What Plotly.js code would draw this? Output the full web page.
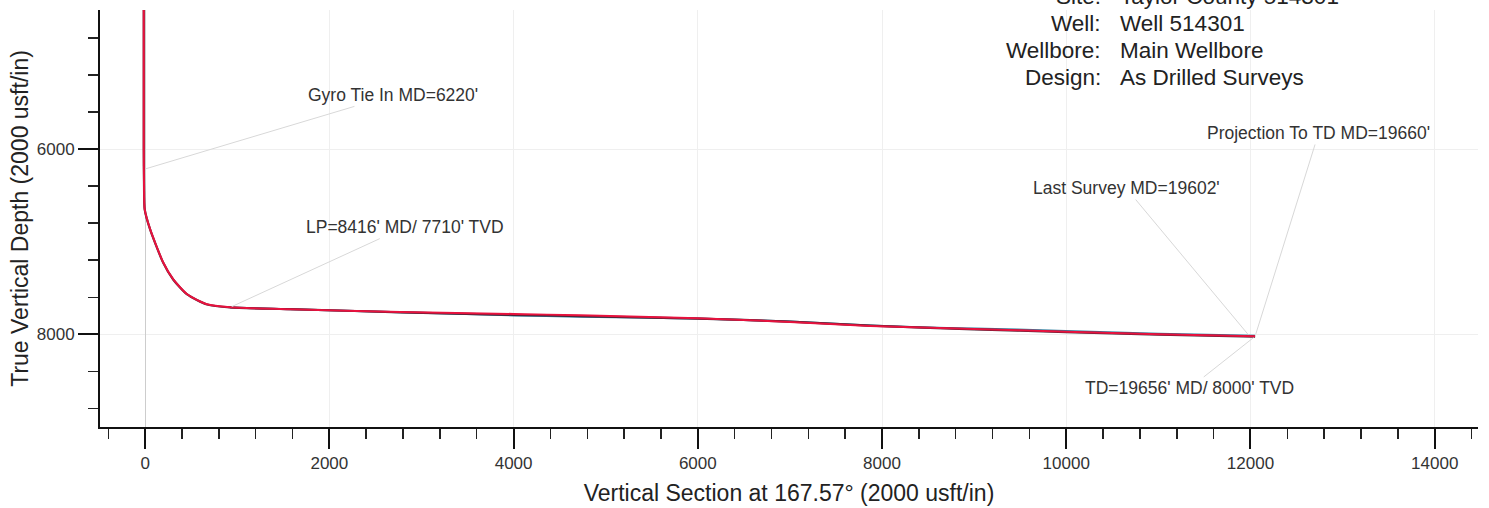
<!DOCTYPE html>
<html>
<head>
<meta charset="utf-8">
<script src="https://cdn.plot.ly/plotly-3.0.1.min.js"></script>
<style>html,body{margin:0;padding:0;background:#fff;}#chart{width:1489px;height:508px;}</style>
</head>
<body>
<div id="chart"></div>
<script>
// Actual well path (red)
const actualVS  = [-15, -15, -12, -5, 54, 195, 304, 456, 673, 923, 1574, 2769, 4000, 4723, 6000, 7000, 7872, 9000, 10000, 11000, 12050];
const actualTVD = [4500, 6000, 6400, 6649, 6865, 7222, 7405, 7568, 7676, 7708, 7730, 7758, 7780, 7795, 7827, 7866, 7910, 7942, 7972, 8000, 8022];
// Plan (dark)
const planVS  = [-15, -15, -12, -5, 54, 195, 304, 456, 673, 923, 1574, 2769, 4000, 4723, 6000, 7000, 7872, 9000, 10000, 11000, 12050];
const planTVD = [4500, 6000, 6400, 6650, 6868, 7225, 7408, 7570, 7678, 7710, 7728, 7762, 7790, 7803, 7830, 7862, 7906, 7946, 7976, 8004, 8024];
// Secondary path (blue-teal)
const altVS  = [923, 1574, 2769, 4000, 4723, 5500, 6000, 7000, 7872, 8600, 9000, 9900, 11000, 12050];
const altTVD = [7710, 7730, 7762, 7796, 7810, 7822, 7830, 7862, 7906, 7930, 7936, 7962, 7994, 8016];

// Header block
const headerLabels = ["Site:", "Well:", "Wellbore:", "Design:"];
const headerValues = ["Taylor County 514301", "Well 514301", "Main Wellbore", "As Drilled Surveys"];

// Survey annotations
const noteText = ["Gyro Tie In MD=6220'", "LP=8416' MD/ 7710' TVD", "Projection To TD MD=19660'", "Last Survey MD=19602'", "TD=19656' MD/ 8000' TVD"];
const notePointVS  = [-15, 920, 12050, 11990, 12050];
const notePointTVD = [6220, 7710, 8022, 8020, 8022];
const noteTextVS   = [2690, 2820, 12740, 10650, 11335];
const noteTextTVD  = [5416, 6843, 5827, 6422, 8584];

const FONT = "Liberation Sans, Arial, Helvetica, sans-serif";

const traces = [
  {x: altVS, y: altTVD, mode: 'lines', line: {color: '#2f7f9f', width: 2, shape: 'spline', smoothing: 0.6}, hoverinfo: 'skip', showlegend: false},
  {x: planVS, y: planTVD, mode: 'lines', line: {color: '#4a2434', width: 2.2, shape: 'spline', smoothing: 0.6}, hoverinfo: 'skip', showlegend: false},
  {x: actualVS, y: actualTVD, mode: 'lines', line: {color: '#e8123e', width: 2, shape: 'spline', smoothing: 0.6}, hoverinfo: 'skip', showlegend: false}
];

const headerY = [1.0324, 0.9676, 0.9017, 0.8381];
const annotations = [];
headerLabels.forEach((t, i) => {
  annotations.push({xref: 'paper', yref: 'paper', x: 0.7279, y: headerY[i], xanchor: 'right', yanchor: 'middle',
    text: t, showarrow: false, font: {family: FONT, size: 22.5, color: '#222'}});
  annotations.push({xref: 'paper', yref: 'paper', x: 0.7390, y: headerY[i], xanchor: 'left', yanchor: 'middle',
    text: headerValues[i], showarrow: false, font: {family: FONT, size: 22.5, color: '#222'}});
});
noteText.forEach((t, i) => {
  annotations.push({xref: 'x', yref: 'y', x: notePointVS[i], y: notePointTVD[i],
    axref: 'x', ayref: 'y', ax: noteTextVS[i], ay: noteTextTVD[i],
    text: t, showarrow: true, arrowhead: 0, arrowwidth: 1, arrowcolor: '#d8d8d8', standoff: 2,
    font: {family: FONT, size: 17.5, color: '#333'}});
});

const axisCommon = {
  tick0: 0, dtick: 2000, ticks: 'outside', ticklen: 20, tickwidth: 2, tickcolor: '#111',
  tickformat: 'd', separatethousands: false, exponentformat: 'none',
  showline: true, linecolor: '#111', linewidth: 2, mirror: false,
  showgrid: true, gridcolor: '#efefef', gridwidth: 1,
  tickfont: {family: FONT, size: 17, color: '#333'},
  minor: {tick0: 0, dtick: 400, ticks: 'outside', ticklen: 10, tickwidth: 1.5, tickcolor: '#222', showgrid: false},
  automargin: false, fixedrange: true
};

const layout = {
  width: 1489, height: 508,
  margin: {l: 100, r: 11, t: 10, b: 81},
  paper_bgcolor: '#ffffff', plot_bgcolor: '#ffffff',
  font: {family: FONT, color: '#222'},
  xaxis: Object.assign({}, axisCommon, {
    range: [-490, 14470],
    zeroline: true, zerolinecolor: '#cdcdcd', zerolinewidth: 1.2,
    title: {text: 'Vertical Section at 167.57° (2000 usft/in)', font: {family: FONT, size: 23, color: '#222'}, standoff: 12}
  }),
  yaxis: Object.assign({}, axisCommon, {
    range: [9000, 4500],
    zeroline: false,
    title: {text: 'True Vertical Depth (2000 usft/in)', font: {family: FONT, size: 23, color: '#222'}, standoff: 2}
  }),
  annotations: annotations,
  showlegend: false
};

Plotly.newPlot('chart', traces, layout, {displayModeBar: false, staticPlot: true});
</script>
</body>
</html>
